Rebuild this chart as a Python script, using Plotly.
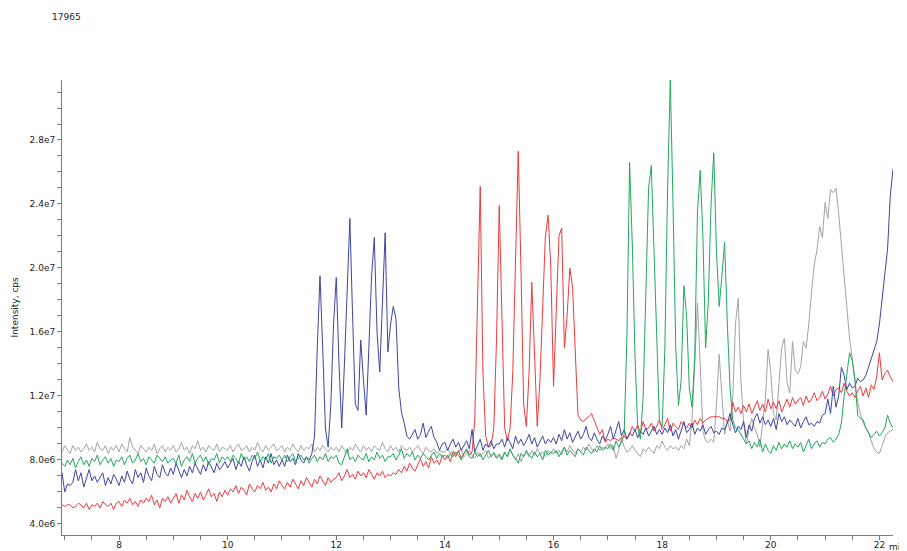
import plotly.graph_objects as go

# time grid: first sample and step (minutes)
t_start = 6.95
t_step = 0.05

# intensities in units of 1e6 cps
red = [
    5.2,5.1,5.2,5.2,5.0,5.1,5.3,5.2,5.0,5.3,
    4.9,5.2,5.1,5.3,5.0,5.4,5.2,5.1,5.3,4.9,
    5.3,5.4,5.1,5.5,5.3,5.6,5.2,5.4,5.1,5.5,
    5.3,5.6,5.4,5.8,5.2,5.5,5.0,5.6,5.4,5.7,
    5.3,5.6,5.9,5.3,5.8,5.5,6.1,5.7,5.4,5.9,
    5.6,6.0,5.5,5.8,6.2,5.7,5.9,5.4,6.0,5.7,
    6.1,5.8,6.2,6.0,6.4,5.9,6.3,6.1,5.8,6.5,
    6.2,6.0,6.4,6.2,6.6,6.1,6.3,6.0,6.5,6.2,
    6.7,6.4,6.2,6.6,6.3,6.8,6.5,6.2,6.7,6.4,
    6.9,6.6,6.3,6.8,6.5,7.0,6.7,6.4,6.9,6.6,
    6.8,6.9,7.2,6.7,7.0,7.4,6.9,7.1,6.8,7.3,
    7.0,7.2,6.9,7.4,7.1,6.8,7.2,7.0,7.3,6.9,
    7.1,7.0,7.2,7.1,7.4,7.2,7.6,7.3,7.8,7.5,
    7.3,7.7,8.1,7.6,7.9,7.5,8.2,7.8,8.0,7.7,
    8.3,8.0,8.3,7.9,8.5,8.2,8.6,8.1,8.4,8.7,
    8.3,8.5,10.5,18.0,25.1,13.5,9.5,8.8,8.9,10.0,
    15.5,23.9,17.0,10.0,9.2,10.0,13.5,21.0,27.3,20.0,
    11.5,10.1,13.5,19.1,14.5,10.1,13.0,17.5,22.0,23.3,
    20.0,12.6,17.0,22.0,22.5,15.0,17.0,20.0,18.8,14.5,
    10.8,10.5,10.4,10.6,10.7,10.9,10.5,10.0,9.6,9.9,
    9.1,9.3,9.2,9.4,9.3,9.2,9.4,9.5,9.3,9.6,
    10.1,9.8,10.2,9.7,10.4,9.9,10.0,10.3,9.8,10.1,
    10.5,9.9,10.2,10.6,9.8,10.3,10.1,9.9,10.4,10.2,
    10.0,10.3,10.0,10.5,10.2,10.6,10.3,10.5,10.6,10.7,
    10.7,10.7,10.7,10.6,10.6,10.4,10.5,11.6,11.0,11.3,
    10.9,11.4,11.0,11.5,10.9,11.3,11.7,11.1,11.5,11.0,
    11.8,11.2,11.6,11.2,11.7,11.0,11.4,11.8,11.3,11.9,
    11.5,11.7,11.9,11.4,12.0,11.6,11.8,12.2,11.7,11.9,
    12.3,11.8,12.1,12.6,12.0,12.4,12.5,12.2,12.8,12.3,
    12.0,12.2,11.9,12.3,12.6,12.0,12.5,11.9,12.7,12.4,
    13.2,14.7,13.0,13.4,13.6,13.2,12.9,
]

green = [
    7.8,7.6,8.0,7.7,8.1,7.5,7.9,8.2,7.7,8.0,
    7.6,8.1,7.9,8.3,7.7,8.0,8.2,7.8,8.1,7.6,
    8.0,7.9,8.2,7.7,8.1,8.3,7.8,8.0,8.4,7.9,
    8.1,7.7,8.2,8.0,7.8,8.3,8.1,7.9,8.2,7.8,
    8.0,8.1,7.8,8.3,7.6,8.0,8.2,7.9,8.4,7.8,
    8.1,8.3,7.9,8.2,7.7,8.1,8.0,8.4,7.8,8.2,
    8.0,8.2,7.9,8.3,8.1,7.8,8.4,8.0,8.2,7.9,
    8.3,8.1,8.5,7.9,8.2,8.0,8.4,7.8,8.2,8.1,
    8.3,8.0,8.3,7.9,8.2,8.4,7.9,8.1,8.3,8.0,
    8.2,7.8,8.1,8.3,7.9,8.2,8.0,8.4,7.9,8.2,
    8.1,8.3,7.8,7.7,8.2,8.7,8.0,8.2,7.9,8.3,
    8.1,8.0,8.4,7.9,8.2,8.0,8.5,8.1,8.3,7.9,
    8.2,8.2,8.4,8.0,8.3,8.7,8.1,8.4,8.2,8.5,
    8.0,8.3,8.1,8.4,8.2,8.0,8.3,8.5,8.1,8.4,
    8.2,8.3,8.1,8.4,8.2,8.5,8.3,8.0,8.4,8.6,
    8.2,8.1,8.5,8.2,8.4,8.0,8.3,8.6,8.2,8.4,
    8.1,8.3,8.0,8.5,8.2,8.7,8.3,8.1,7.8,8.4,
    8.2,8.6,8.3,8.1,8.5,8.2,8.4,8.0,8.6,8.3,
    8.5,8.4,8.6,8.2,8.5,8.8,8.3,8.6,8.4,8.2,
    8.7,8.5,8.3,8.8,8.6,8.4,8.7,8.5,8.9,8.6,
    8.8,8.7,9.0,8.6,9.2,8.8,9.1,9.6,15.5,26.6,
    21.5,14.5,10.0,9.3,12.0,19.5,25.0,26.4,21.0,15.0,
    10.4,10.1,15.0,25.0,31.75,24.0,15.0,11.4,13.0,18.9,
    17.0,12.5,11.3,14.5,23.5,26.1,22.0,15.0,18.0,24.0,
    27.2,21.0,17.6,19.5,21.6,16.5,12.5,10.5,10.0,9.9,
    9.6,9.3,9.0,9.2,8.7,9.1,8.8,9.3,8.5,9.0,
    8.6,8.4,8.9,8.6,9.1,8.7,9.0,8.8,9.2,8.7,
    9.0,8.8,9.1,8.5,8.9,9.3,8.7,9.0,9.2,8.8,
    9.1,9.0,9.3,9.4,9.1,9.3,9.6,10.3,12.0,13.4,
    14.7,14.2,13.0,10.8,10.6,10.5,10.0,9.7,9.4,9.6,
    9.8,9.5,9.7,10.0,10.8,10.3,10.0,
]

blue = [
    7.2,6.0,6.5,6.4,6.6,7.4,6.7,7.2,6.3,6.8,
    7.4,6.7,7.0,6.6,6.9,7.2,6.4,6.9,6.5,7.1,
    6.8,6.4,7.0,6.6,7.3,6.8,6.5,7.4,6.9,7.2,
    6.6,7.5,7.0,6.7,7.6,7.1,6.9,7.7,7.2,7.0,
    7.5,7.1,7.8,7.3,6.9,7.4,7.0,7.6,7.2,7.8,
    7.4,7.1,7.7,7.3,7.9,7.5,7.2,7.8,7.4,7.6,
    7.9,7.5,7.8,8.1,7.4,7.9,7.6,8.2,7.7,7.3,
    7.9,8.3,7.6,8.0,7.5,8.2,7.8,8.4,7.7,8.0,
    7.6,8.0,7.6,8.3,7.9,8.1,7.7,8.4,8.0,7.8,
    8.2,8.0,8.4,9.5,15.0,19.5,15.0,10.0,8.8,11.5,
    16.5,19.4,14.0,10.0,14.0,19.0,23.1,17.0,11.5,11.1,
    15.5,13.0,10.8,15.0,19.5,21.9,16.0,13.5,18.0,22.2,
    14.75,16.5,17.6,16.8,12.5,11.0,10.3,9.5,9.3,9.6,
    9.9,9.3,9.6,10.3,9.4,9.8,10.1,9.4,9.1,8.6,
    9.0,9.1,8.6,9.0,9.3,8.8,9.1,8.6,8.9,9.2,
    8.7,9.9,8.5,8.9,9.3,8.6,9.0,8.8,9.2,8.7,
    9.0,9.0,9.3,8.8,9.4,9.1,8.7,9.5,9.0,9.3,
    8.9,9.2,9.6,9.0,9.4,8.8,9.2,9.5,9.0,9.3,
    9.1,9.4,9.0,9.6,9.2,9.9,9.3,9.7,9.1,9.5,
    9.8,9.3,9.6,10.1,9.4,9.2,9.7,9.3,9.0,9.5,
    9.2,9.6,10.1,9.3,9.8,10.4,9.5,9.9,9.3,9.7,
    9.5,9.9,9.4,9.8,9.6,10.0,9.5,9.8,10.1,9.6,
    9.9,9.6,10.0,9.7,10.2,9.5,9.9,9.3,9.8,10.4,
    9.7,9.9,10.3,9.6,10.0,9.8,10.2,9.6,9.9,10.1,
    9.7,9.8,9.6,10.0,9.9,10.3,10.9,10.2,9.7,10.1,
    9.9,10.4,9.4,10.2,9.8,10.6,10.9,10.3,10.7,10.2,
    10.5,10.1,10.6,9.9,10.9,10.4,10.7,10.2,10.5,10.3,
    10.1,10.6,10.0,10.4,10.7,10.2,10.3,10.1,10.4,10.3,
    10.8,10.9,11.8,10.9,12.6,11.3,12.0,13.8,13.3,12.4,
    12.8,12.5,12.6,13.1,12.9,13.0,13.3,13.8,14.3,14.9,
    15.4,16.5,18.0,19.3,21.2,24.5,26.2,
]

gray = [
    8.5,8.9,8.6,8.4,8.9,8.6,8.8,8.5,8.7,9.0,
    8.6,8.8,8.5,9.1,8.7,8.6,8.9,8.4,8.8,8.6,
    8.9,8.5,9.0,8.7,8.5,9.4,8.8,8.6,8.4,8.9,
    8.7,8.5,8.8,8.6,9.0,8.4,8.7,8.9,8.5,8.8,
    8.6,8.9,8.5,8.7,9.1,8.6,8.8,8.4,8.9,8.7,
    9.2,8.6,8.8,8.5,8.9,8.7,8.6,9.0,8.5,8.8,
    8.7,8.6,8.9,8.5,8.8,9.0,8.6,8.7,8.9,8.5,
    8.8,8.6,9.1,8.7,8.5,8.9,8.6,8.8,9.0,8.6,
    8.7,8.9,8.5,8.8,8.6,9.0,8.7,8.5,8.9,8.6,
    8.8,8.7,9.0,8.5,8.8,8.6,8.9,8.7,8.5,8.8,
    8.6,8.8,8.5,8.9,8.6,8.4,8.8,8.6,9.0,8.7,
    8.5,8.9,8.6,8.8,8.5,8.9,8.7,8.6,9.1,8.7,
    8.5,8.9,8.6,8.8,8.5,8.9,8.7,8.6,8.8,8.5,
    8.7,8.9,8.6,8.4,8.8,8.6,8.5,8.7,8.4,8.6,
    8.5,8.5,8.7,8.4,8.6,8.3,8.5,8.7,8.2,8.4,
    8.6,8.3,8.1,8.5,8.2,8.4,8.6,8.1,8.3,8.5,
    8.2,8.4,8.1,8.5,8.2,8.6,8.3,8.0,8.4,7.9,
    8.3,8.5,8.2,8.6,8.3,8.7,8.4,8.5,8.2,8.6,
    8.4,8.7,8.4,8.6,8.3,8.8,8.5,8.9,8.6,8.4,
    8.7,8.5,8.8,8.6,9.0,8.7,8.5,8.9,8.6,8.8,
    8.7,9.0,8.7,8.9,8.1,8.6,9.4,8.8,8.5,8.6,
    8.9,8.6,8.4,8.2,8.7,8.5,8.8,8.6,8.4,8.9,
    8.7,9.2,8.8,8.6,8.9,8.7,8.8,8.6,8.9,8.7,
    9.3,8.9,10.5,14.0,17.8,14.0,9.8,9.2,9.1,9.3,
    9.1,11.5,14.6,12.0,9.6,10.5,9.8,12.0,16.5,18.1,
    13.0,10.3,9.0,9.9,10.6,10.0,9.6,8.8,10.5,11.8,
    14.9,13.5,10.9,10.5,12.8,15.0,15.6,12.8,12.2,15.4,
    13.6,13.4,13.8,15.4,15.0,16.5,18.5,20.2,21.1,22.6,
    21.9,24.1,23.1,24.9,24.7,25.0,23.4,21.5,19.8,17.5,
    15.6,14.3,12.8,11.6,10.9,10.3,10.0,9.7,9.2,8.7,
    8.5,8.4,8.9,9.4,9.7,9.8,9.9,
]

series_names = ["gray", "red", "blue", "green"]
series_values = [gray, red, blue, green]
series_colors = ["#a3a3a3", "#f0393c", "#3c45a3", "#1fa85a"]

x_tick_vals = [8, 10, 12, 14, 16, 18, 20, 22]
x_tick_text = ["8", "10", "12", "14", "16", "18", "20", "22"]
y_tick_vals = [4, 8, 12, 16, 20, 24, 28]
y_tick_text = ["4.0e6", "8.0e6", "1.2e7", "1.6e7", "2.0e7", "2.4e7", "2.8e7"]

fig = go.Figure()
for name, vals, col in zip(series_names, series_values, series_colors):
    times = [t_start + t_step * i for i in range(len(vals))]
    fig.add_trace(go.Scatter(x=times, y=vals, mode="lines", name=name,
                             line=dict(color=col, width=1), showlegend=False,
                             hoverinfo="skip"))

axis_col = "#7a7a7a"
font = dict(family="DejaVu Sans", size=9, color="#222222")

fig.update_layout(
    width=899, height=543,
    margin=dict(l=54, r=14, t=72, b=16),
    paper_bgcolor="white", plot_bgcolor="white",
    font=font,
    xaxis=dict(range=[6.95, 22.25], showgrid=False, zeroline=False,
               showline=True, linecolor=axis_col, linewidth=1,
               tickmode="array", tickvals=x_tick_vals, ticktext=x_tick_text,
               ticks="outside", ticklen=4, tickcolor=axis_col,
               ticklabelstandoff=-3,
               minor=dict(tickmode="linear", tick0=0, dtick=0.5,
                          ticks="outside", ticklen=4, tickcolor=axis_col),
               automargin=False),
    yaxis=dict(range=[3.31, 31.75], showgrid=False, zeroline=False,
               showline=True, linecolor=axis_col, linewidth=1,
               tickmode="array", tickvals=y_tick_vals, ticktext=y_tick_text,
               ticks="outside", ticklen=4, tickcolor=axis_col,
               minor=dict(tickmode="linear", tick0=0, dtick=1,
                          ticks="outside", ticklen=4, tickcolor=axis_col),
               automargin=False),
    annotations=[
        dict(text="17965", xref="paper", yref="paper", x=0.005, y=1 + 63 / 455,
             xanchor="center", yanchor="middle", showarrow=False, font=font),
        dict(text="Intensity, cps", xref="paper", yref="paper",
             x=-48 / 831, y=0.5, textangle=-90, xanchor="center",
             yanchor="middle", showarrow=False, font=font),
        dict(text="min", xref="x", yref="paper", x=22, y=0, xanchor="left",
             yanchor="top", xshift=8, yshift=-5, showarrow=False, font=font),
    ],
)

fig.write_html("out.html")
